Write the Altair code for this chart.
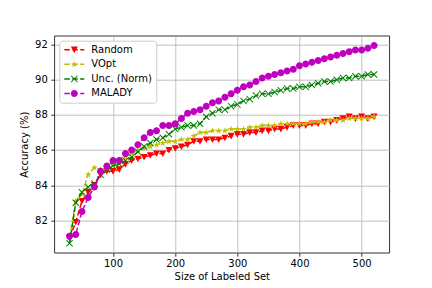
import altair as alt
import pandas as pd

sizes = [30, 40, 50, 60, 70, 80, 90, 100, 110, 120,
         130, 140, 150, 160, 170, 180, 190, 200, 210, 220,
         230, 240, 250, 260, 270, 280, 290, 300, 310, 320,
         330, 340, 350, 360, 370, 380, 390, 400, 410, 420,
         430, 440, 450, 460, 470, 480, 490, 500, 510, 520]

random_acc = [81.0, 81.9, 83.1, 83.6, 84.0, 84.6, 84.8, 84.8, 84.9, 85.2,
              85.4, 85.5, 85.6, 85.7, 85.8, 85.8, 86.0, 86.1, 86.2, 86.3,
              86.5, 86.5, 86.6, 86.6, 86.6, 86.7, 86.8, 86.9, 86.9, 87.0,
              87.0, 87.1, 87.1, 87.2, 87.2, 87.3, 87.4, 87.4, 87.4, 87.5,
              87.5, 87.6, 87.6, 87.7, 87.8, 87.9, 87.8, 87.9, 87.8, 87.9]

vopt_acc = [81.0, 83.1, 83.5, 84.6, 85.0, 84.9, 85.0, 85.2, 85.3, 85.6,
            85.8, 86.0, 86.1, 86.2, 86.3, 86.4, 86.5, 86.5, 86.6, 86.6,
            86.8, 87.0, 87.0, 87.1, 87.1, 87.1, 87.2, 87.2, 87.2, 87.3,
            87.3, 87.4, 87.4, 87.4, 87.5, 87.5, 87.5, 87.5, 87.5, 87.6,
            87.6, 87.6, 87.7, 87.7, 87.7, 87.8, 87.8, 87.8, 87.8, 87.9]

unc_acc = [80.7, 83.0, 83.6, 83.9, 84.1, 84.6, 84.9, 85.1, 85.2, 85.4,
           85.6, 85.9, 86.2, 86.4, 86.6, 86.7, 86.9, 87.2, 87.3, 87.4,
           87.4, 87.5, 87.9, 88.1, 88.3, 88.3, 88.5, 88.6, 88.8, 88.9,
           89.1, 89.2, 89.2, 89.3, 89.4, 89.5, 89.5, 89.6, 89.6, 89.7,
           89.8, 89.9, 89.9, 90.0, 90.1, 90.1, 90.2, 90.2, 90.3, 90.3]

malady_acc = [81.1, 81.2, 82.5, 83.3, 83.9, 84.8, 85.1, 85.4, 85.4, 85.8,
              86.0, 86.3, 86.7, 87.0, 87.1, 87.4, 87.4, 87.5, 87.8, 88.1,
              88.2, 88.3, 88.5, 88.7, 88.8, 89.0, 89.2, 89.4, 89.6, 89.7,
              89.9, 90.1, 90.2, 90.3, 90.4, 90.5, 90.6, 90.8, 90.9, 91.0,
              91.1, 91.2, 91.3, 91.4, 91.5, 91.6, 91.7, 91.7, 91.8, 91.95]

series_names = ["Random", "VOpt", "Unc. (Norm)", "MALADY"]
series_values = [random_acc, vopt_acc, unc_acc, malady_acc]
series_colors = ["#ff0000", "#bfbf00", "#008000", "#bf00bf"]

x_ticks = [100, 200, 300, 400, 500]
y_ticks = [82, 84, 86, 88, 90, 92]

# marker shapes (unit paths)
TRI_DOWN = "M-1,-0.9L1,-0.9L0,1Z"
STAR = ("M0,-1L0.2245,-0.309L0.951,-0.309L0.3633,0.118L0.5878,0.809L0,0.382"
        "L-0.5878,0.809L-0.3633,0.118L-0.951,-0.309L-0.2245,-0.309Z")
XMARK = ("M-1,-0.8L-0.8,-1L0,-0.2L0.8,-1L1,-0.8L0.2,0L1,0.8L0.8,1L0,0.2"
         "L-0.8,1L-1,0.8L-0.2,0Z")
CIRCLE = "M1,0A1,1,0,1,1,-1,0A1,1,0,1,1,1,0Z"
markers = [TRI_DOWN, STAR, XMARK, CIRCLE]

DASHES = ("M-2.857,-0.214L-1.271,-0.214L-1.271,0.214L-2.857,0.214Z"
          "M-0.586,-0.214L1.0,-0.214L1.0,0.214L-0.586,0.214Z"
          "M1.686,-0.214L2.857,-0.214L2.857,0.214L1.686,0.214Z")
legend_paths = [DASHES + m for m in markers]

rows = []
for name, vals in zip(series_names, series_values):
    for s, v in zip(sizes, vals):
        rows.append({"size": s, "acc": v, "series": name})
df = pd.DataFrame(rows)

FONT = "DejaVu Sans"

x_enc = alt.X("size:Q",
              scale=alt.Scale(domain=[5.5, 544.5], nice=False, zero=False),
              axis=alt.Axis(values=x_ticks, title="Size of Labeled Set",
                            labelPadding=2.5, titlePadding=2.5))
y_enc = alt.Y("acc:Q",
              scale=alt.Scale(domain=[80.16, 92.51], nice=False, zero=False),
              axis=alt.Axis(values=y_ticks, title="Accuracy (%)",
                            labelPadding=3.5, titlePadding=5))

base = alt.Chart(df).encode(x=x_enc, y=y_enc)

layers = []
for name, col, mk in zip(series_names, series_colors, markers):
    sub = base.transform_filter(alt.datum.series == name)
    layers.append(sub.mark_line(color=col, strokeDash=[5.55, 2.4], strokeWidth=1.5))
    layers.append(sub.mark_point(filled=True, shape=mk, size=49, color=col,
                                 opacity=1, strokeWidth=0))

leg = alt.Legend(title=None, orient="top-left", offset=5, padding=4,
                 fillColor="white", strokeColor="#cccccc", cornerRadius=3,
                 labelFont=FONT, labelFontSize=10, labelColor="black",
                 symbolSize=49, symbolStrokeWidth=0, symbolOffset=6,
                 labelOffset=12, rowPadding=4.6)

legend_layer = base.transform_filter("false").mark_point(filled=True, opacity=1).encode(
    color=alt.Color("series:N", scale=alt.Scale(domain=series_names, range=series_colors),
                    legend=leg),
    shape=alt.Shape("series:N", scale=alt.Scale(domain=series_names, range=legend_paths),
                    legend=leg),
)
layers.append(legend_layer)

chart = alt.layer(*layers).properties(
    width=335, height=217,
    autosize=alt.AutoSizeParams(type="none"),
    padding={"left": 46.3, "top": 27.7, "right": 30, "bottom": 28},
).configure_view(
    stroke="black", strokeWidth=0.8
).configure_axis(
    domain=False, grid=True, gridColor="#b0b0b0", gridWidth=0.8,
    tickColor="black", tickSize=3.5, tickWidth=0.8,
    labelFont=FONT, labelFontSize=10, labelColor="black",
    titleFont=FONT, titleFontSize=10, titleFontWeight="normal", titleColor="black",
)

chart.save("out.html", embed_options={"renderer": "svg", "actions": False})
